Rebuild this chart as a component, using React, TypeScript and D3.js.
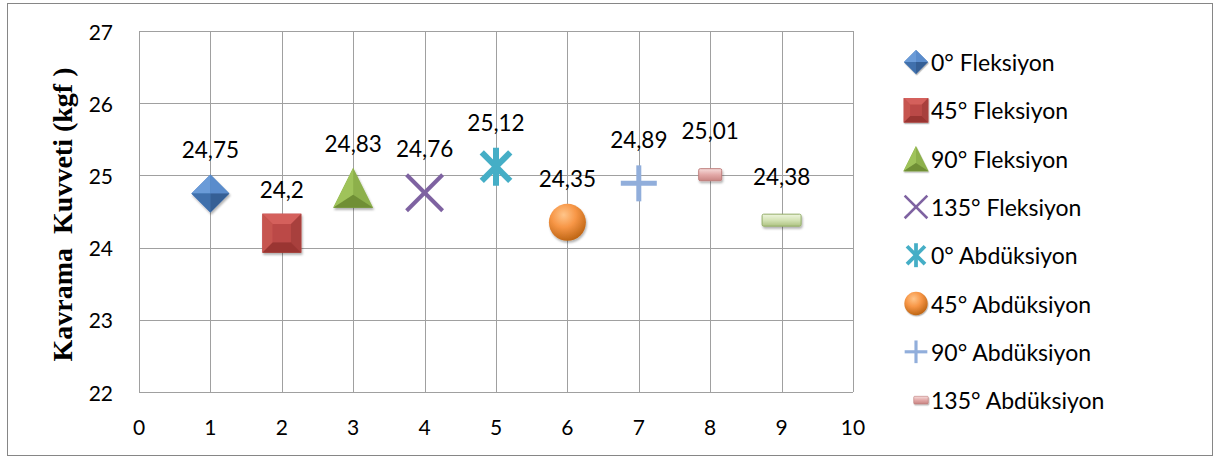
import React from "react";
import * as d3 from "d3";

const seriesNames = [
  "0° Fleksiyon",
  "45° Fleksiyon",
  "90° Fleksiyon",
  "135° Fleksiyon",
  "0° Abdüksiyon",
  "45° Abdüksiyon",
  "90° Abdüksiyon",
  "135° Abdüksiyon",
  "",
];
const xValues = [1, 2, 3, 4, 5, 6, 7, 8, 9];
const yValues = [24.75, 24.2, 24.83, 24.76, 25.12, 24.35, 24.89, 25.01, 24.38];
const markerKinds = ["diamond", "square", "triangle", "x", "star", "circle", "plus", "dashPink", "dashGreen"];
const legendCount = 8;
const xTicks = [0, 1, 2, 3, 4, 5, 6, 7, 8, 9, 10];
const yTicks = [22, 23, 24, 25, 26, 27];
const yTitle = "Kavrama  Kuvveti (kgf )";

const W = 1220;
const H = 459;
const plot = { left: 139, right: 853, top: 31, bottom: 392 };
const FONT = "Lato, 'Open Sans', sans-serif";

function Marker({ kind, cx, cy, s }: { kind: string; cx: number; cy: number; s: number }) {
  const t = `translate(${cx},${cy}) scale(${s})`;
  switch (kind) {
    case "diamond": {
      const r = 19;
      return (
        <g transform={t} filter="url(#shadow)">
          <polygon points={`0,${-r} ${r},0 0,${r} ${-r},0`} fill="#4a7ebb" />
          <polygon points={`0,${-r} ${-r},0 0,0`} fill="#6b9bd8" />
          <polygon points={`0,${-r} ${r},0 0,0`} fill="#5a8ccc" />
          <polygon points={`${-r},0 0,${r} 0,0`} fill="#3f70ac" />
          <polygon points={`${r},0 0,${r} 0,0`} fill="#365f95" />
        </g>
      );
    }
    case "square": {
      const r = 19.5;
      const i = 9;
      return (
        <g transform={t} filter="url(#shadow)">
          <rect x={-r} y={-r} width={2 * r} height={2 * r} fill="#be4b48" />
          <polygon points={`${-r},${-r} ${r},${-r} ${i},${-i} ${-i},${-i}`} fill="#d4605c" />
          <polygon points={`${-r},${-r} ${-i},${-i} ${-i},${i} ${-r},${r}`} fill="#c65450" />
          <polygon points={`${r},${-r} ${r},${r} ${i},${i} ${i},${-i}`} fill="#a83f3c" />
          <polygon points={`${-r},${r} ${r},${r} ${i},${i} ${-i},${i}`} fill="#9a3633" />
          <rect x={-i} y={-i} width={2 * i} height={2 * i} fill="#bb4946" />
        </g>
      );
    }
    case "triangle": {
      const r = 20;
      return (
        <g transform={t} filter="url(#shadow)">
          <polygon points={`0,${-r} ${r},${r} ${-r},${r}`} fill="#8db04c" />
          <polygon points={`0,${-r} 0,${r * 0.35} ${-r},${r}`} fill="#9fc35a" />
          <polygon points={`${-r},${r} ${r},${r} 0,${r * 0.35}`} fill="#6f8f36" />
        </g>
      );
    }
    case "x": {
      const r = 18;
      return (
        <g transform={t} stroke="#7e62a1" strokeWidth={4} strokeLinecap="butt">
          <line x1={-r} y1={-r} x2={r} y2={r} />
          <line x1={-r} y1={r} x2={r} y2={-r} />
        </g>
      );
    }
    case "star": {
      const r = 19;
      const d = r * 0.75;
      return (
        <g transform={t} stroke="#45aec6" strokeWidth={6} strokeLinecap="butt">
          <line x1={-d} y1={-d} x2={d} y2={d} />
          <line x1={-d} y1={d} x2={d} y2={-d} />
          <line x1={0} y1={-r} x2={0} y2={r} />
        </g>
      );
    }
    case "circle":
      return (
        <g transform={t} filter="url(#shadow)">
          <circle r={18.5} fill="url(#orangeGrad)" />
        </g>
      );
    case "plus": {
      const r = 18;
      return (
        <g transform={t} stroke="#91aedb" strokeWidth={5}>
          <line x1={-r} y1={0} x2={r} y2={0} />
          <line x1={0} y1={-r} x2={0} y2={r} />
        </g>
      );
    }
    case "dashPink":
      return (
        <g transform={t} filter="url(#shadow)">
          <rect x={-11.5} y={-6} width={23} height={12} rx={1.5} fill="url(#pinkGrad)" stroke="#c0807e" strokeWidth={1} />
        </g>
      );
    case "dashGreen":
      return (
        <g transform={t} filter="url(#shadow)">
          <rect x={-19.5} y={-6} width={39} height={12} rx={1.5} fill="url(#greenGrad)" stroke="#93ad68" strokeWidth={1} />
        </g>
      );
    default:
      return null;
  }
}

export default function App() {
  const x = d3.scaleLinear().domain([0, 10]).range([plot.left, plot.right]);
  const y = d3.scaleLinear().domain([22, 27]).range([plot.bottom, plot.top]);
  const fmt = (v: number) => String(v).replace(".", ",");

  const legendX = 916;
  const legendY0 = 62;
  const legendStep = 48.3;

  return (
    <svg width={W} height={H} style={{ position: "absolute", left: 0, top: 0 }}>
      <defs>
        <radialGradient id="orangeGrad" cx="0.4" cy="0.3" r="0.75">
          <stop offset="0" stopColor="#ffc58a" />
          <stop offset="0.45" stopColor="#f79646" />
          <stop offset="1" stopColor="#b8600f" />
        </radialGradient>
        <linearGradient id="pinkGrad" x1="0" y1="0" x2="0" y2="1">
          <stop offset="0" stopColor="#f6dcdb" />
          <stop offset="0.5" stopColor="#e3a9a8" />
          <stop offset="1" stopColor="#c98583" />
        </linearGradient>
        <linearGradient id="greenGrad" x1="0" y1="0" x2="0" y2="1">
          <stop offset="0" stopColor="#eef5de" />
          <stop offset="0.5" stopColor="#d4e3b5" />
          <stop offset="1" stopColor="#aec382" />
        </linearGradient>
        <filter id="shadow" x="-30%" y="-30%" width="170%" height="170%">
          <feDropShadow dx="1" dy="2" stdDeviation="1.2" floodColor="#000" floodOpacity="0.3" />
        </filter>
      </defs>
      <rect x={0} y={0} width={W} height={H} fill="#fff" />
      <rect x={7.5} y={3.5} width={1205} height={452} fill="#fff" stroke="#868686" strokeWidth={1} />

      {yTicks.map((v) => (
        <line key={"h" + v} x1={plot.left} x2={plot.right} y1={Math.round(y(v)) + 0.5} y2={Math.round(y(v)) + 0.5} stroke="#a0a0a0" strokeWidth={1} />
      ))}
      {xTicks.map((v) => (
        <line key={"v" + v} x1={Math.round(x(v)) + 0.5} x2={Math.round(x(v)) + 0.5} y1={plot.top} y2={plot.bottom} stroke="#a0a0a0" strokeWidth={1} />
      ))}

      {yTicks.map((v) => (
        <text key={"yt" + v} x={113} y={y(v)} textAnchor="end" dominantBaseline="central" fontFamily={FONT} fontSize={21} fill="#000">
          {v}
        </text>
      ))}
      {xTicks.map((v) => (
        <text key={"xt" + v} x={x(v)} y={426} textAnchor="middle" dominantBaseline="central" fontFamily={FONT} fontSize={21} fill="#000">
          {v}
        </text>
      ))}

      <text
        transform={`translate(62,${(plot.top + plot.bottom) / 2 + 3}) rotate(-90)`}
        textAnchor="middle"
        dominantBaseline="central"
        fontFamily="'Liberation Serif', 'Times New Roman', serif"
        fontWeight="bold"
        fontSize={28}
        fill="#000"
        style={{ whiteSpace: "pre" }}
        xmlSpace="preserve"
      >
        {yTitle}
      </text>

      {xValues.map((xv, i) => (
        <Marker key={"m" + i} kind={markerKinds[i]} cx={x(xv)} cy={y(yValues[i])} s={1} />
      ))}

      {xValues.map((xv, i) => (
        <text key={"l" + i} x={x(xv)} y={y(yValues[i]) - 44} textAnchor="middle" dominantBaseline="central" fontFamily={FONT} fontSize={22.5} fill="#000">
          {fmt(yValues[i])}
        </text>
      ))}

      {seriesNames.slice(0, legendCount).map((name, i) => {
        const cy = legendY0 + i * legendStep;
        const small = markerKinds[i] === "dashPink";
        return (
          <g key={"lg" + i}>
            <Marker kind={markerKinds[i]} cx={small ? legendX + 5 : legendX} cy={cy} s={0.63} />
            <text x={931} y={cy} dominantBaseline="central" fontFamily={FONT} fontSize={23} fill="#000">
              {name}
            </text>
          </g>
        );
      })}
    </svg>
  );
}
